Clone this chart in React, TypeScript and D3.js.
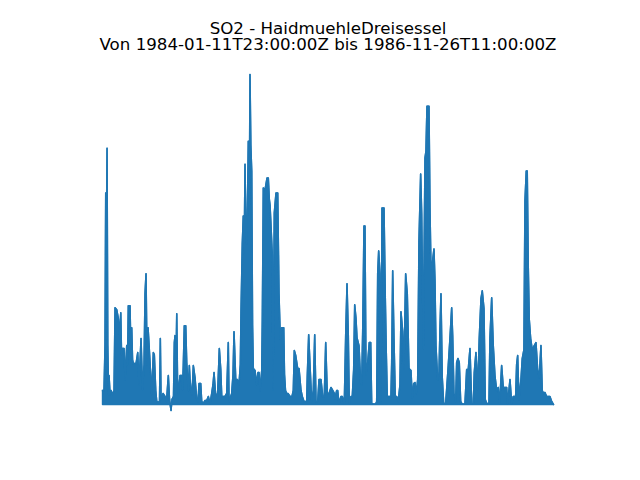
import React from "react";
import * as d3 from "d3";

// Days since 1984-01-11T23:00:00Z (series runs to 1986-11-26T11:00:00Z)
const seriesDays: number[] = [
  0, 3.5, 5.8, 7.4, 8.8, 10.5, 12.1, 14.0, 15.1, 17.5, 19.8, 23.3, 26.8, 29.1, 33.0, 36.8, 39.6, 42.4, 44.2, 46.1,
  50.0, 52.4, 56.3, 58.2, 60.0, 64.0, 65.6, 67.9, 69.8, 71.7, 78.0, 81.9, 84.9, 89.6, 93.1, 96.6, 98.9, 101.2, 103.6, 105.9,
  108.2, 110.5, 114.5, 118.2, 120.5, 123.8, 126.1, 132.6, 134.5, 136.1, 140.8, 145.4, 148.9, 153.1, 155.9, 159.4, 161.7, 165.2, 167.1,
  168.7, 170.6, 172.7, 174.5, 176.4, 180.3, 184.3, 186.2, 188.0, 190.3, 193.6, 195.9, 199.7, 202.0, 203.6, 205.9, 208.3, 211.3, 215.2,
  219.2, 222.2, 224.6, 228.5, 230.8, 234.6, 238.5, 242.5, 246.2, 250.2, 254.1, 257.1, 259.5, 263.0, 267.6, 271.8, 275.1, 277.4, 281.1,
  285.1, 289.0, 292.7, 294.4, 300.6, 303.7, 306.0, 310.0, 313.7, 317.6, 320.7, 322.3, 325.3, 327.6, 329.7, 331.6, 333.9, 335.6, 337.4,
  339.3, 341.6, 343.2, 345.1, 347.2, 349.1, 350.9,
  354.9, 358.8, 361.8, 364.2, 366.5, 370.5, 371.9, 374.2, 378.1, 382.8, 385.8, 388.1, 389.8, 392.1, 395.1, 396.8, 399.8, 403.7, 407.7,
  410.7, 413.7, 417.0, 421.7, 423.5, 425.8, 428.6, 431.6, 436.3, 441.0, 444.0, 446.3, 449.6, 454.2, 457.3, 461.9, 464.9, 468.9, 475.2,
  476.6, 479.8, 482.9, 486.8, 490.5, 493.8, 496.8, 500.8, 503.8, 508.4, 512.4, 516.1, 519.4, 523.1, 527.1, 531.7, 535.7, 539.4,
  541.0, 545.0, 547.3, 550.3, 555.0, 558.0, 562.7, 565.9, 569.0, 572.0, 574.3, 578.3, 581.3, 584.5, 586.9, 589.9, 592.2, 596.9, 600.8,
  603.2, 605.5, 608.5, 610.8, 613.2, 617.1, 620.8, 624.1, 626.4, 630.2, 635.7, 638.1, 640.4, 642.7, 645.7, 648.1, 650.4, 655.1, 658.1,
  660.4, 662.7, 666.7, 671.3, 673.0, 675.3, 678.3, 681.3, 684.6, 688.3, 692.3, 694.6, 698.6, 701.6, 705.5, 709.3, 713.2, 717.9, 720.9, 724.2,
  727.2, 730.2, 733.5, 736.5, 740.4, 742.8, 746.5, 750.5, 752.8, 755.1, 759.8, 762.1, 764.4, 767.4, 771.4, 773.7, 776.0, 780.0, 783.0,
  785.4, 787.7, 790.7, 794.0, 798.6, 800.9, 804.7, 808.6, 812.6, 814.9, 817.9, 821.9, 824.2, 827.2, 830.3, 833.5, 836.6, 843.5, 847.5,
  851.2, 855.2, 859.1, 862.9, 865.2, 869.1, 873.1, 876.8, 880.8, 883.8, 887.8, 890.8, 894.0, 899.4, 901.7, 905.7, 909.4,
  913.3, 917.3, 921.0, 924.3, 928.9, 932.7, 936.6, 940.6, 942.9, 948.3, 952.2, 955.9, 961.5, 963.8, 966.2, 969.2, 973.9, 976.9, 980.8,
  983.2, 986.2, 988.5, 990.9, 993.2, 996.4, 1000.1, 1004.8, 1008.8, 1012.7, 1016.4, 1020.4, 1023.4, 1026.7, 1029.7, 1033.6, 1041.3, 1045.3, 1049.5,
];

// SO2 readings (peak level per time step)
const so2Values: number[] = [
  14, 14, 60, 212, 160, 257, 60, 10, 29, 10, 14, 10, 14, 97, 95, 86, 70, 92, 50, 56,
  56, 25, 59, 40, 99, 99, 60, 77, 45, 41, 41, 52, 20, 66, 15, 40, 111, 131, 40, 77,
  60, 42, 10, 52, 50, 14, 3, 2, 66, 5, 11, 8, 3, 29, 5, -6, 5, 8, 62,
  69, 30, 91, 25, 11, 29, 29, 15, 39, 79, 79, 42, 14, 39, 25, 14, 10, 39, 27,
  5, 3, 21, 21, 3, 1, 4, 4, 8, 1, 11, 20, 32, 11, 8, 56, 35, 8, 8,
  8, 11, 62, 3, 11, 30, 73, 25, 25, 20, 40, 92, 161, 189, 150, 241, 170, 161, 200,
  264, 200, 331, 260, 234, 80, 36,
  34, 20, 32, 32, 14, 34, 84, 217, 215, 227, 227, 206, 200, 179, 150, 15, 192, 212, 212,
  111, 66, 77, 77, 30, 14, 11, 11, 8, 8, 14, 54, 49, 36, 36, 14, 8, 3, 3,
  29, 70, 39, 3, 14, 70, 3, 3, 25, 25, 8, 8, 62, 11, 11, 17, 14, 11,
  6, 14, 14, 1, 8, 8, 1, 69, 121, 69, 1, 8, 8, 35, 100, 86, 67, 59, 22,
  20, 73, 179, 179, 30, 42, 62, 62, 1, 0.5, 0.5, 3, 131, 154, 131, 2, 197, 197, 107,
  52, 8, 8, 8, 42, 134, 66, 8, 8, 3, 20, 93, 73, 36, 131, 111, 36, 34, 6, 21,
  22, 11, 25, 164, 231, 191, 56, 247, 254, 299, 299, 197, 136, 141, 156, 124, 59, 25, 30,
  76, 111, 27, 1, 1, 15, 39, 66, 97, 69, 11, 3, 42, 46, 42, 3, 0.5, 0.5, 35,
  35, 56, 1, 0.5, 32, 52, 15, 66, 106, 114, 96, 5, 1, 1, 67, 107, 59,
  29, 14, 17, 1, 39, 17, 17, 17, 1, 25, 1, 8, 8, 40, 49, 5, 25, 46, 55,
  204, 234, 234, 137, 85, 66, 55, 59, 62, 35, 27, 59, 14, 11, 12, 8, 8, 3, 0,
];

const titleLines: string[] = [
  "SO2 - HaidmuehleDreisessel",
  "Von 1984-01-11T23:00:00Z bis 1986-11-26T11:00:00Z",
];

const W = 640;
const H = 480;
const COLOR = "#1f77b4";

export default function App() {
  const data = seriesDays.map((d, i) => ({ d, v: so2Values[i] }));
  const left = 0.125 * W;
  const right = 0.9 * W;
  const top = 0.12 * H;
  const bottom = 0.89 * H;

  const [dMin, dMax] = d3.extent(seriesDays) as [number, number];
  const [vMin, vMax] = d3.extent(so2Values) as [number, number];
  const dPad = (dMax - dMin) * 0.05;
  const vPad = (vMax - vMin) * 0.05;

  const x = d3.scaleLinear().domain([dMin - dPad, dMax + dPad]).range([left, right]);
  const y = d3.scaleLinear().domain([vMin - vPad, vMax + vPad]).range([bottom, top]);

  const area = d3
    .area<{ d: number; v: number }>()
    .x((p) => x(p.d))
    .y0(() => y(0))
    .y1((p) => y(p.v));

  const line = d3
    .line<{ d: number; v: number }>()
    .x((p) => x(p.d))
    .y((p) => y(p.v));

  const cx = (left + right) / 2;

  return (
    <svg width={W} height={H} style={{ display: "block", position: "absolute", left: 0, top: 0 }}>
      <rect width={W} height={H} fill="#ffffff" />
      <path d={area(data) ?? ""} fill={COLOR} stroke={COLOR} strokeWidth={1.5} strokeLinejoin="round" />
      <path d={line(data) ?? ""} fill="none" stroke={COLOR} strokeWidth={1.5} strokeLinejoin="round" strokeLinecap="square" />
      <text fontFamily="DejaVu Sans" fontSize={16.67} fill="#000" textAnchor="middle">
        <tspan x={cx} y={33.5}>{titleLines[0]}</tspan>
        <tspan x={cx} y={50}>{titleLines[1]}</tspan>
      </text>
    </svg>
  );
}
